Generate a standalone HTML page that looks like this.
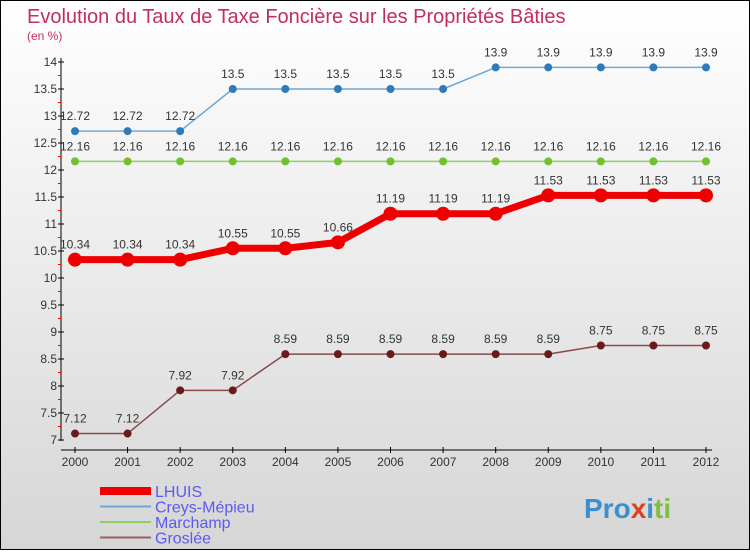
<!DOCTYPE html>
<html><head><meta charset="utf-8"><style>
html,body{margin:0;padding:0}
body{width:750px;height:550px;overflow:hidden;font-family:"Liberation Sans",sans-serif}
</style></head><body>
<svg id="chart" width="750" height="550" xmlns="http://www.w3.org/2000/svg">
<defs><linearGradient id="bg" x1="0" y1="0" x2="0" y2="1"><stop offset="0" stop-color="#ffffff"/><stop offset="1" stop-color="#d6d6d6"/></linearGradient></defs>
<rect x="0.5" y="0.5" width="749" height="549" fill="url(#bg)" stroke="#000"/>
<text x="27" y="23" font-size="20" fill="#c0305a">Evolution du Taux de Taxe Foncière sur les Propriétés Bâties</text>
<text x="27" y="40" font-size="12" fill="#c0305a">(en %)</text>
<g id="axes"></g>
<g id="series"></g>
<g id="legend"></g>
<text x="584" y="518" font-size="28" font-weight="bold" fill="#f0a020"><tspan fill="#3a8fd0">Pro</tspan><tspan fill="#e04020">x</tspan><tspan fill="#3a8fd0">i</tspan><tspan fill="#80c040">ti</tspan></text>
</svg>
<script>
const years = [2000,2001,2002,2003,2004,2005,2006,2007,2008,2009,2010,2011,2012];
const lhuis = [10.34,10.34,10.34,10.55,10.55,10.66,11.19,11.19,11.19,11.53,11.53,11.53,11.53];
const creys = [12.72,12.72,12.72,13.5,13.5,13.5,13.5,13.5,13.9,13.9,13.9,13.9,13.9];
const marchamp = [12.16,12.16,12.16,12.16,12.16,12.16,12.16,12.16,12.16,12.16,12.16,12.16,12.16];
const groslee = [7.12,7.12,7.92,7.92,8.59,8.59,8.59,8.59,8.59,8.59,8.75,8.75,8.75];
const yTicks = [7,7.5,8,8.5,9,9.5,10,10.5,11,11.5,12,12.5,13,13.5,14];
const seriesNames = ["LHUIS","Creys-Mépieu","Marchamp","Groslée"];

const NS="http://www.w3.org/2000/svg";
const x = i => 75 + i*(706-75)/(years.length-1);
const y = v => 440 - (v-7)*(440-62)/7;
function mk(tag, attrs, parent){const e=document.createElementNS(NS,tag);for(const k in attrs)e.setAttribute(k,attrs[k]);parent.appendChild(e);return e;}
const axes=document.getElementById('axes');
let a=mk('line',{x1:61,y1:58,x2:61,y2:441,stroke:'#000'},axes);


a=mk('line',{x1:61,y1:450,x2:712,y2:450,stroke:'#000'},axes);


yTicks.forEach(t=>{
  mk('line',{x1:58,y1:y(t),x2:64,y2:y(t),stroke:'#000'},axes);
  if(t<14) mk('line',{x1:58,y1:y(t+0.25),x2:61,y2:y(t+0.25),stroke:'#f00'},axes);
  const tx=mk('text',{x:57,y:y(t)+4,'font-size':12,'text-anchor':'end',fill:'#333'},axes);
  tx.textContent=t;
  
  
});
years.forEach((yr,i)=>{
  mk('line',{x1:x(i),y1:447,x2:x(i),y2:453,stroke:'#000'},axes);
  const tx=mk('text',{x:x(i),y:466,'font-size':12,'text-anchor':'middle',fill:'#333'},axes);
  tx.textContent=yr;
  
  
});
const g=document.getElementById('series');
function draw(vals,name,color,w,r,dot){
  const grp=mk('g',{},g);
  
  
  const pl=mk('polyline',{points:vals.map((v,i)=>x(i)+','+y(v)).join(' '),fill:'none',stroke:color,'stroke-width':w,'stroke-linejoin':'round'},grp);
  
  
  vals.forEach((v,i)=>{
    const c=mk('circle',{cx:x(i),cy:y(v),r:r,fill:dot},grp);
    
    
    const t=mk('text',{x:x(i),y:y(v)-11,'font-size':12,'text-anchor':'middle',fill:'#333'},grp);
    t.textContent=v;
    
    
  });
}
draw(creys,'creys-mepieu','#6fa8d6',1.5,4,'#2f7ab8');
draw(marchamp,'marchamp','#90d060',1.5,4,'#70c030');
draw(groslee,'groslee','#8a4a4a',1.5,4,'#6a1a1a');
draw(lhuis,'lhuis','#ee0000',7,7,'#ee0000');
const lg=document.getElementById('legend');
const lcol=['#ee0000','#6fa8d6','#90d060','#9a6060'];
const lw=[8,2,2,2];
seriesNames.forEach((n,i)=>{
  const yy=491+i*15.5;
  const ln=mk('line',{x1:100,y1:yy,x2:151,y2:yy,stroke:lcol[i],'stroke-width':lw[i]},lg);
  
  
  const t=mk('text',{x:155,y:yy+6,'font-size':16,fill:'#5a5af0'},lg);
  t.textContent=n;
  
  
});
</script>
</body></html>
